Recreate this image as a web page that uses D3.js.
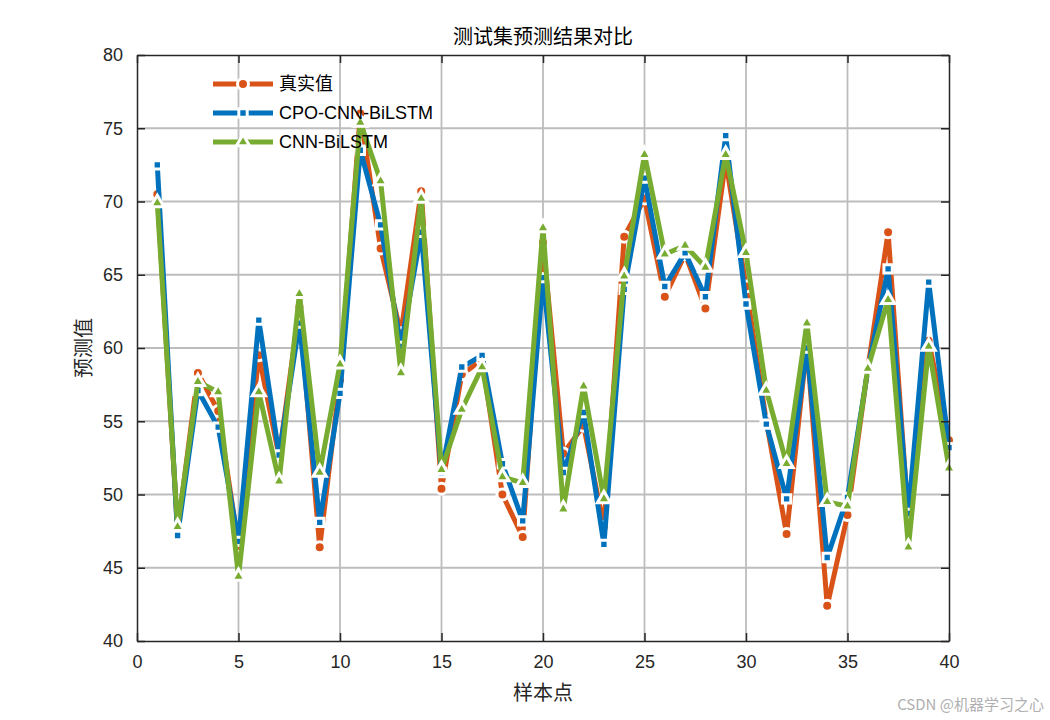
<!DOCTYPE html>
<html>
<head>
<meta charset="utf-8">
<script src="https://cdn.jsdelivr.net/npm/d3@7"></script>
<style>
  body { margin: 0; background: #fff; }
  #vis svg { display: block; }
</style>
</head>
<body>
<div id="vis"></div>
<script>
const WIDTH = 1050;
const HEIGHT = 720;
const MARGIN = { LEFT: 137, RIGHT: 101, TOP: 55, BOTTOM: 79 };

const CN_FONT = "'Noto Sans CJK SC', sans-serif";
const NUM_FONT = "'Liberation Sans', Arial, sans-serif";

// sample index 1..40
const samples = d3.range(1, 41);

const trueValues = [
  70.5, 47.5, 58.3, 55.7, 46.5, 59.5, 52.6, 62.8, 46.4, 57.8,
  76.0, 66.8, 61.0, 70.7, 50.4, 58.2, 59.2, 50.0, 47.1, 67.2,
  52.8, 54.7, 47.8, 67.6, 70.2, 63.5, 66.4, 62.7, 72.8, 64.2,
  55.0, 47.3, 60.2, 42.4, 48.6, 58.6, 67.9, 48.2, 60.5, 53.7
];
const cpoValues = [
  72.5, 47.2, 57.1, 54.6, 46.8, 61.9, 52.7, 61.7, 48.1, 56.9,
  73.5, 68.4, 60.1, 67.9, 51.5, 58.7, 59.5, 52.1, 48.2, 64.8,
  51.5, 55.6, 46.6, 64.0, 71.6, 64.2, 66.5, 63.5, 74.5, 63.0,
  54.8, 49.7, 60.0, 45.7, 49.8, 58.5, 65.4, 48.7, 64.5, 53.2
];
const cnnValues = [
  69.9, 47.8, 57.7, 57.0, 44.4, 57.0, 50.9, 63.7, 51.5, 58.9,
  75.4, 71.4, 58.3, 70.2, 51.7, 55.8, 58.7, 51.2, 50.8, 68.2,
  49.0, 57.4, 49.7, 64.9, 73.2, 66.4, 67.0, 65.5, 73.2, 66.5,
  57.1, 52.1, 61.7, 49.5, 49.2, 58.6, 63.3, 46.4, 60.1, 51.8
];

const seriesNames = ["真实值", "CPO-CNN-BiLSTM", "CNN-BiLSTM"];
const xTicks = [0, 5, 10, 15, 20, 25, 30, 35, 40];
const yTicks = [40, 45, 50, 55, 60, 65, 70, 75, 80];

const series = [
  { name: seriesNames[0], values: trueValues, color: "#D95319", symbol: d3.symbolCircle, size: 95 },
  { name: seriesNames[1], values: cpoValues, color: "#0072BD", symbol: d3.symbolSquare, size: 70 },
  { name: seriesNames[2], values: cnnValues, color: "#77AC30", symbol: d3.symbolTriangle, size: 75 }
];

const xScale = d3.scaleLinear().domain([0, 40]).range([MARGIN.LEFT, WIDTH - MARGIN.RIGHT]);
const yScale = d3.scaleLinear().domain([40, 80]).range([HEIGHT - MARGIN.BOTTOM, MARGIN.TOP]);

const svg = d3.select("#vis")
  .append("svg")
  .attr("width", WIDTH)
  .attr("height", HEIGHT);

svg.append("rect").attr("width", WIDTH).attr("height", HEIGHT).attr("fill", "#fff");

const x0 = MARGIN.LEFT, x1 = WIDTH - MARGIN.RIGHT;
const y0 = HEIGHT - MARGIN.BOTTOM, y1 = MARGIN.TOP;

// grid
const grid = svg.append("g").attr("class", "grid");
grid.selectAll(".gx").data(xTicks.slice(1, -1)).enter().append("line")
  .attr("x1", d => xScale(d)).attr("x2", d => xScale(d))
  .attr("y1", y0).attr("y2", y1)
  .attr("stroke", "#bdbdbd").attr("stroke-width", 1.8);
grid.selectAll(".gy").data(yTicks.slice(1, -1)).enter().append("line")
  .attr("x1", x0).attr("x2", x1)
  .attr("y1", d => yScale(d)).attr("y2", d => yScale(d))
  .attr("stroke", "#bdbdbd").attr("stroke-width", 1.8);

// lines and markers, drawn in plot order
const line = d3.line()
  .x((d, i) => xScale(samples[i]))
  .y(d => yScale(d));

series.forEach(s => {
  const g = svg.append("g").attr("class", "series");
  g.append("path")
    .datum(s.values)
    .attr("d", line)
    .attr("fill", "none")
    .attr("stroke", s.color)
    .attr("stroke-width", 5)
    .attr("stroke-linejoin", "round");
  g.selectAll("path.mk")
    .data(s.values)
    .enter()
    .append("path")
    .attr("class", "mk")
    .attr("d", d3.symbol().type(s.symbol).size(s.size))
    .attr("transform", (d, i) => `translate(${xScale(samples[i])},${yScale(d)})`)
    .attr("fill", s.color)
    .attr("stroke", "#fff")
    .attr("stroke-width", 3);
});

// axes (box with inward ticks on all sides)
const axisColor = "#262626";
svg.append("g")
  .attr("transform", `translate(0,${y0})`)
  .call(d3.axisBottom(xScale).tickValues(xTicks).tickSizeInner(-8).tickSizeOuter(0).tickPadding(14))
  .call(g => g.select(".domain").attr("stroke", axisColor).attr("stroke-width", 1.5))
  .call(g => g.selectAll(".tick line").attr("stroke", axisColor).attr("stroke-width", 1.5))
  .call(g => g.selectAll(".tick text").attr("fill", "#262626").attr("font-family", NUM_FONT).attr("font-size", 18));

svg.append("g")
  .attr("transform", `translate(0,${y1})`)
  .call(d3.axisTop(xScale).tickValues(xTicks).tickSizeInner(-8).tickSizeOuter(0).tickFormat(""))
  .call(g => g.select(".domain").attr("stroke", axisColor).attr("stroke-width", 1.5))
  .call(g => g.selectAll(".tick line").attr("stroke", axisColor).attr("stroke-width", 1.5));

svg.append("g")
  .attr("transform", `translate(${x0},0)`)
  .call(d3.axisLeft(yScale).tickValues(yTicks).tickSizeInner(-8).tickSizeOuter(0).tickPadding(14))
  .call(g => g.select(".domain").attr("stroke", axisColor).attr("stroke-width", 1.5))
  .call(g => g.selectAll(".tick line").attr("stroke", axisColor).attr("stroke-width", 1.5))
  .call(g => g.selectAll(".tick text").attr("fill", "#262626").attr("font-family", NUM_FONT).attr("font-size", 18));

svg.append("g")
  .attr("transform", `translate(${x1},0)`)
  .call(d3.axisRight(yScale).tickValues(yTicks).tickSizeInner(-8).tickSizeOuter(0).tickFormat(""))
  .call(g => g.select(".domain").attr("stroke", axisColor).attr("stroke-width", 1.5))
  .call(g => g.selectAll(".tick line").attr("stroke", axisColor).attr("stroke-width", 1.5));

// titles
svg.append("text")
  .attr("x", (x0 + x1) / 2).attr("y", 44)
  .attr("text-anchor", "middle")
  .attr("font-family", CN_FONT).attr("font-size", 20)
  .attr("fill", "#000")
  .text("测试集预测结果对比");

svg.append("text")
  .attr("x", (x0 + x1) / 2).attr("y", 700)
  .attr("text-anchor", "middle")
  .attr("font-family", CN_FONT).attr("font-size", 20)
  .attr("fill", "#262626")
  .text("样本点");

svg.append("text")
  .attr("transform", `translate(91,${(y0 + y1) / 2}) rotate(-90)`)
  .attr("text-anchor", "middle")
  .attr("font-family", CN_FONT).attr("font-size", 20)
  .attr("fill", "#262626")
  .text("预测值");

// legend
const legend = svg.append("g").attr("class", "legend");
series.forEach((s, i) => {
  const ly = 84 + i * 29;
  legend.append("line")
    .attr("x1", 213).attr("x2", 273).attr("y1", ly).attr("y2", ly)
    .attr("stroke", s.color).attr("stroke-width", 5);
  legend.append("path")
    .attr("d", d3.symbol().type(s.symbol).size(s.size))
    .attr("transform", `translate(243,${ly})`)
    .attr("fill", s.color).attr("stroke", "#fff").attr("stroke-width", 3);
  legend.append("text")
    .attr("x", 279).attr("y", ly + 6)
    .attr("font-family", i === 0 ? CN_FONT : NUM_FONT)
    .attr("font-size", 18)
    .attr("fill", "#000")
    .text(s.name);
});

// watermark
svg.append("text")
  .attr("x", 1044).attr("y", 710)
  .attr("text-anchor", "end")
  .attr("font-family", CN_FONT).attr("font-size", 15)
  .attr("fill", "#b0b0b0")
  .text("CSDN @机器学习之心");
</script>
</body>
</html>
